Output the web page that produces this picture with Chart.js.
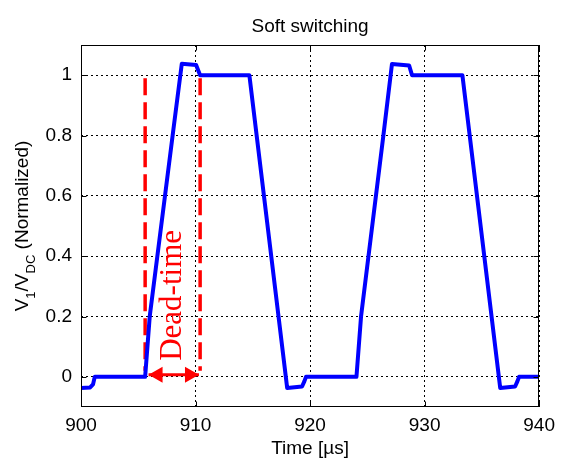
<!DOCTYPE html>
<html>
<head>
<meta charset="utf-8">
<script src="https://cdn.jsdelivr.net/npm/chart.js@4.4.0/dist/chart.umd.min.js"></script>
<style>
  html, body { margin: 0; background: #fff; }
</style>
</head>
<body>
<canvas id="chart" width="562" height="459"></canvas>
<script>
// waveform V1/VDC over time (µs)
const time = [900, 900.8, 901.05, 901.2, 905.6, 906.0, 908.0, 908.8, 910.05, 910.4, 914.7,
  918.0, 919.3, 919.5, 919.65, 924.05, 924.45, 926.4, 927.15, 928.65, 928.9, 933.3,
  936.6, 937.9, 938.1, 938.25, 940];
const v1 = [-0.037, -0.035, -0.025, 0, 0, 0.2, 0.8, 1.038, 1.034, 1.0, 1.0,
  -0.037, -0.032, -0.015, 0, 0, 0.2, 0.8, 1.037, 1.032, 1.0, 1.0,
  -0.037, -0.032, -0.015, 0, 0];

const xTicks = [900, 910, 920, 930, 940];
const yTicks = [0, 0.2, 0.4, 0.6, 0.8, 1];

// dead-time markers
const deadTime = [905.6, 910.4];
const deadSpan = [0.99, 0.02];
const arrowX = [905.9, 910.3];
const arrowY = 0.007;
const deadLabel = 'Dead-time';
const deadLabelPos = [908.0, 0.27];

const font = '"Liberation Sans", Arial, sans-serif';

const extras = {
  id: 'extras',
  afterDatasetsDraw(chart) {
    const { ctx, chartArea: a, scales: { x, y } } = chart;
    ctx.save();

    // box + inward ticks
    ctx.strokeStyle = '#000';
    ctx.lineWidth = 1;
    const L = Math.round(a.left) + 0.5, R = Math.round(a.right) - 0.5;
    const T = Math.round(a.top) + 0.5, B = Math.round(a.bottom) - 0.5;
    ctx.strokeRect(L, T, R - L, B - T);
    ctx.beginPath();
    xTicks.forEach(v => {
      const px = Math.round(x.getPixelForValue(v)) + 0.5;
      ctx.moveTo(px, B); ctx.lineTo(px, B - 5);
      ctx.moveTo(px, T); ctx.lineTo(px, T + 5);
    });
    yTicks.forEach(v => {
      const py = Math.round(y.getPixelForValue(v)) + 0.5;
      ctx.moveTo(L, py); ctx.lineTo(L + 5, py);
      ctx.moveTo(R, py); ctx.lineTo(R - 5, py);
    });
    ctx.stroke();

    // arrow heads
    ctx.fillStyle = '#ff0000';
    const py = y.getPixelForValue(arrowY);
    const p0 = x.getPixelForValue(arrowX[0]), p1 = x.getPixelForValue(arrowX[1]);
    ctx.beginPath();
    ctx.moveTo(p0, py); ctx.lineTo(p0 + 14, py - 8); ctx.lineTo(p0 + 14, py + 8); ctx.closePath();
    ctx.moveTo(p1, py); ctx.lineTo(p1 - 14, py - 8); ctx.lineTo(p1 - 14, py + 8); ctx.closePath();
    ctx.fill();

    // dead-time label
    ctx.save();
    ctx.translate(x.getPixelForValue(deadLabelPos[0]), y.getPixelForValue(deadLabelPos[1]));
    ctx.rotate(-Math.PI / 2);
    ctx.font = '31px "Liberation Serif", "Times New Roman", serif';
    ctx.textAlign = 'center';
    ctx.textBaseline = 'middle';
    ctx.fillText(deadLabel, 0, 0);
    ctx.restore();

    // titles
    ctx.fillStyle = '#000';
    ctx.textAlign = 'center';
    ctx.textBaseline = 'alphabetic';
    ctx.font = '19px ' + font;
    const cx = (a.left + a.right) / 2;
    ctx.fillText('Soft switching', cx, 32);
    ctx.fillText('Time [µs]', cx, 454);

    // y label with subscripts
    const big = '19px ' + font, small = '13px ' + font;
    const parts = [['V', big, 0], ['1', small, 7], ['/V', big, 0], ['DC', small, 7], [' (Normalized)', big, 0]];
    let total = 0;
    parts.forEach(p => { ctx.font = p[1]; total += ctx.measureText(p[0]).width; });
    ctx.save();
    ctx.translate(28, (a.top + a.bottom) / 2);
    ctx.rotate(-Math.PI / 2);
    ctx.textAlign = 'left';
    let pos = -total / 2;
    parts.forEach(p => {
      ctx.font = p[1];
      ctx.fillText(p[0], pos, p[2]);
      pos += ctx.measureText(p[0]).width;
    });
    ctx.restore();

    ctx.restore();
  }
};

new Chart(document.getElementById('chart'), {
  type: 'scatter',
  data: {
    datasets: [
      {
        data: time.map((t, i) => ({ x: t, y: v1[i] })),
        showLine: true,
        borderColor: '#0000ff',
        borderWidth: 4,
        borderJoinStyle: 'round',
        pointRadius: 0,
        tension: 0
      },
      {
        data: deadSpan.map(v => ({ x: deadTime[0], y: v })),
        showLine: true,
        borderColor: '#ff0000',
        borderWidth: 3.5,
        borderDash: [17, 7],
        pointRadius: 0
      },
      {
        data: deadSpan.map(v => ({ x: deadTime[1], y: v })),
        showLine: true,
        borderColor: '#ff0000',
        borderWidth: 3.5,
        borderDash: [17, 7],
        pointRadius: 0
      },
      {
        data: arrowX.map(v => ({ x: v, y: arrowY })),
        showLine: true,
        borderColor: '#ff0000',
        borderWidth: 3,
        pointRadius: 0
      }
    ]
  },
  options: {
    responsive: false,
    animation: false,
    devicePixelRatio: 1,
    layout: { padding: { top: 45, right: 17, left: 0, bottom: 0 } },
    plugins: { legend: { display: false }, tooltip: { enabled: false } },
    scales: {
      x: {
        type: 'linear',
        min: 900,
        max: 940,
        afterBuildTicks: s => { s.ticks = xTicks.map(v => ({ value: v })); },
        afterFit: s => { s.height = 52; },
        ticks: { color: '#000', font: { family: font, size: 19 }, padding: 7, maxRotation: 0, autoSkip: false },
        grid: { color: '#000', lineWidth: 1, drawTicks: false },
        border: { display: false, dash: [2, 3] }
      },
      y: {
        min: -0.1,
        max: 1.1,
        afterBuildTicks: s => { s.ticks = yTicks.map(v => ({ value: v })); },
        afterFit: s => { s.width = 81; },
        ticks: { color: '#000', font: { family: font, size: 19 }, padding: 9, callback: v => String(v) },
        grid: { color: '#000', lineWidth: 1, drawTicks: false },
        border: { display: false, dash: [2, 3] }
      }
    }
  },
  plugins: [extras]
});
</script>
</body>
</html>
